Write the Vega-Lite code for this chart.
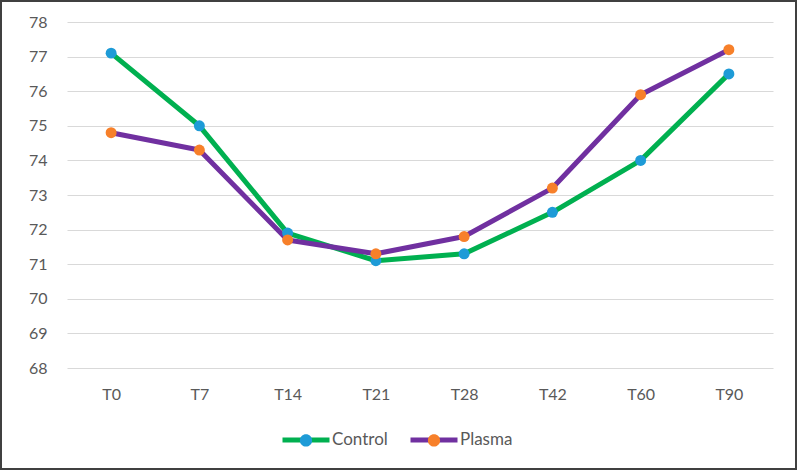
{
  "$schema": "https://vega.github.io/schema/vega-lite/v6.json",
  "width": 797,
  "height": 470,
  "autosize": {"type": "none"},
  "padding": 0,
  "background": "white",
  "config": {
    "view": {"stroke": "#404040", "strokeWidth": 4},
    "font": "Lato"
  },
  "data": {
    "values": [
      {"time": "T0", "series": "Control", "value": 77.1},
      {"time": "T7", "series": "Control", "value": 75.0},
      {"time": "T14", "series": "Control", "value": 71.9},
      {"time": "T21", "series": "Control", "value": 71.1},
      {"time": "T28", "series": "Control", "value": 71.3},
      {"time": "T42", "series": "Control", "value": 72.5},
      {"time": "T60", "series": "Control", "value": 74.0},
      {"time": "T90", "series": "Control", "value": 76.5},
      {"time": "T0", "series": "Plasma", "value": 74.8},
      {"time": "T7", "series": "Plasma", "value": 74.3},
      {"time": "T14", "series": "Plasma", "value": 71.7},
      {"time": "T21", "series": "Plasma", "value": 71.3},
      {"time": "T28", "series": "Plasma", "value": 71.8},
      {"time": "T42", "series": "Plasma", "value": 73.2},
      {"time": "T60", "series": "Plasma", "value": 75.9},
      {"time": "T90", "series": "Plasma", "value": 77.2}
    ]
  },
  "encoding": {
    "x": {
      "field": "time",
      "type": "ordinal",
      "sort": ["T0", "T7", "T14", "T21", "T28", "T42", "T60", "T90"],
      "scale": {"type": "point", "range": [67, 773], "padding": 0.5},
      "axis": {
        "title": null,
        "labelAngle": 0,
        "offset": -102,
        "domain": false,
        "ticks": false,
        "grid": false,
        "labelPadding": 18,
        "labelFontSize": 16,
        "labelColor": "#595959",
        "labelFont": "Lato"
      }
    },
    "y": {
      "field": "value",
      "type": "quantitative",
      "scale": {"domain": [68, 78], "range": [368, 22], "nice": false, "zero": false},
      "axis": {
        "title": null,
        "offset": -67,
        "domain": false,
        "ticks": false,
        "values": [68, 69, 70, 71, 72, 73, 74, 75, 76, 77, 78],
        "grid": true,
        "gridColor": "#d9d9d9",
        "gridWidth": 1,
        "labelPadding": 20,
        "labelFontSize": 16,
        "labelColor": "#595959",
        "labelFont": "Lato"
      }
    }
  },
  "layer": [
    {
      "mark": {"type": "line", "strokeWidth": 5, "strokeJoin": "round", "strokeCap": "round"},
      "encoding": {
        "stroke": {
          "field": "series",
          "type": "nominal",
          "scale": {"range": ["#00B050", "#7030A0"]},
          "legend": {
            "orient": "none",
            "legendX": 280,
            "legendY": 414,
            "direction": "horizontal",
            "title": null,
            "symbolType": "M-1,0H1",
            "symbolSize": 2209,
            "symbolStrokeWidth": 5,
            "labelFontSize": 17,
            "labelOffset": 0,
            "labelColor": "#595959",
            "labelFont": "Lato",
            "columnPadding": 12,
            "padding": 0,
            "zindex": 0
          }
        }
      }
    },
    {
      "mark": {"type": "point", "filled": true, "size": 120, "opacity": 1, "strokeWidth": 0},
      "encoding": {
        "fill": {
          "field": "series",
          "type": "nominal",
          "scale": {"domain": ["Control", "Plasma"], "range": ["#1E9BD7", "#F7802A"]},
          "legend": {
            "orient": "none",
            "legendX": 280,
            "legendY": 414,
            "direction": "horizontal",
            "title": null,
            "symbolType": "M-1,0H1M0.26,0A0.26,0.26 0 1,1 -0.26,0A0.26,0.26 0 1,1 0.26,0Z",
            "symbolSize": 2209,
            "symbolStrokeWidth": 5,
            "symbolStrokeColor": "transparent",
            "symbolOpacity": 1,
            "labelFontSize": 17,
            "labelOffset": 0,
            "labelColor": "#595959",
            "labelFont": "Lato",
            "labelOpacity": 0,
            "columnPadding": 12,
            "padding": 0,
            "zindex": 1
          }
        }
      }
    }
  ]
}
